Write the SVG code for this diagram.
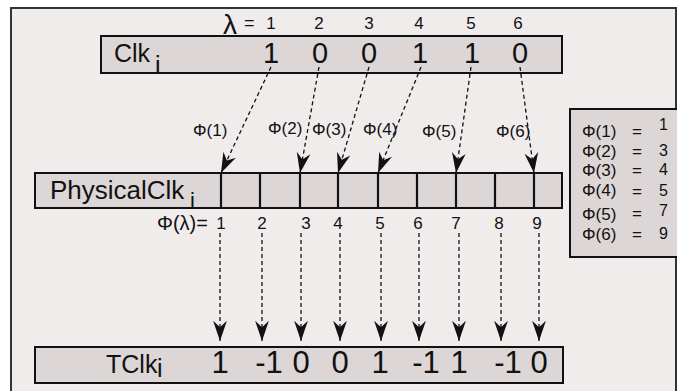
<svg xmlns="http://www.w3.org/2000/svg" width="677" height="391" viewBox="0 0 677 391">
<defs>
<style>
text{font-family:"Liberation Sans",Arial,sans-serif;fill:#111}
.box{fill:#ddd6d6;stroke:#111;stroke-width:2}
.big{font-size:29px;text-anchor:middle}
.tv{font-size:31px;text-anchor:middle}
.lbl{font-size:25px}
.sm{font-size:17px;text-anchor:middle}
.phi{font-size:17px}
.leg{font-size:17px}
.val{font-size:16px}
.dash{stroke:#111;stroke-width:1.3;stroke-dasharray:4 3;fill:none}
.tick{stroke:#111;stroke-width:2.2}
</style>
<marker id="ah" viewBox="-23 -8 25 16" markerWidth="23" markerHeight="16" refX="0" refY="0" orient="auto" markerUnits="userSpaceOnUse">
<path d="M0,0 L-22,-7.5 L-15,0 L-22,7.5 Z" fill="#111"/>
</marker>
</defs>
<rect x="0" y="0" width="677" height="391" fill="#ffffff"/>
<rect x="11" y="8" width="665" height="400" fill="#f0ecec" stroke="#333" stroke-width="2"/>

<g id="clk">
<rect class="box" x="101" y="36" width="461" height="37"/>
<text class="lbl" x="114" y="62">Clk</text>
<text class="lbl" x="155" y="74">i</text>
<text class="big" x="271" y="63">1</text>
<text class="big" x="320" y="63">0</text>
<text class="big" x="369" y="63">0</text>
<text class="big" x="420" y="63">1</text>
<text class="big" x="472" y="63">1</text>
<text class="big" x="520" y="63">0</text>
<text x="223" y="34" style="font-size:28px">λ</text>
<text x="244" y="29" style="font-size:18px">=</text>
<text class="sm" x="271" y="29">1</text>
<text class="sm" x="319" y="29">2</text>
<text class="sm" x="369" y="29">3</text>
<text class="sm" x="419" y="29">4</text>
<text class="sm" x="471" y="29">5</text>
<text class="sm" x="518" y="29">6</text>
</g>

<g id="physicalclk">
<rect class="box" x="35" y="173" width="527" height="35"/>
<text class="lbl" x="50" y="199" style="font-size:26px">PhysicalClk</text>
<text class="lbl" x="190" y="208" style="font-size:22px">i</text>
<line class="tick" x1="221" y1="173" x2="221" y2="208"/>
<line class="tick" x1="260" y1="173" x2="260" y2="208"/>
<line class="tick" x1="300" y1="173" x2="300" y2="208"/>
<line class="tick" x1="338" y1="173" x2="338" y2="208"/>
<line class="tick" x1="378" y1="173" x2="378" y2="208"/>
<line class="tick" x1="417" y1="173" x2="417" y2="208"/>
<line class="tick" x1="456" y1="173" x2="456" y2="208"/>
<line class="tick" x1="495" y1="173" x2="495" y2="208"/>
<line class="tick" x1="534" y1="173" x2="534" y2="208"/>
<text x="157" y="230" style="font-size:20px">Φ(λ)=</text>
<text class="sm" x="221" y="229">1</text>
<text class="sm" x="262" y="229">2</text>
<text class="sm" x="306" y="229">3</text>
<text class="sm" x="338" y="229">4</text>
<text class="sm" x="380" y="229">5</text>
<text class="sm" x="418" y="229">6</text>
<text class="sm" x="456" y="229">7</text>
<text class="sm" x="499" y="229">8</text>
<text class="sm" x="537" y="229">9</text>
</g>

<g id="tclk">
<rect class="box" x="35" y="347" width="528" height="36"/>
<text class="lbl" x="106" y="373">TClk</text>
<text class="lbl" x="157" y="377">i</text>
<text class="tv" x="220" y="373">1</text>
<text class="tv" x="269" y="373" text-anchor="end">-1</text>
<text class="tv" x="301" y="373">0</text>
<text class="tv" x="340" y="373">0</text>
<text class="tv" x="380" y="373">1</text>
<text class="tv" x="426" y="373" text-anchor="end">-1</text>
<text class="tv" x="459" y="373">1</text>
<text class="tv" x="508" y="373" text-anchor="end">-1</text>
<text class="tv" x="539" y="373">0</text>
</g>

<g id="legend">
<rect class="box" x="570" y="109" width="110" height="148"/>
<text class="leg" x="582" y="137">Φ(1)</text><text class="leg" x="632" y="137">=</text><text class="val" x="659" y="130">1</text>
<text class="leg" x="582" y="157">Φ(2)</text><text class="leg" x="632" y="157">=</text><text class="val" x="659" y="156">3</text>
<text class="leg" x="582" y="176">Φ(3)</text><text class="leg" x="632" y="176">=</text><text class="val" x="659" y="175">4</text>
<text class="leg" x="582" y="196">Φ(4)</text><text class="leg" x="632" y="197">=</text><text class="val" x="659" y="196">5</text>
<text class="leg" x="582" y="220">Φ(5)</text><text class="leg" x="632" y="219">=</text><text class="val" x="659" y="216">7</text>
<text class="leg" x="582" y="240">Φ(6)</text><text class="leg" x="632" y="240">=</text><text class="val" x="659" y="239">9</text>
</g>

<g id="phi-labels">
<text class="phi" x="193" y="136">Φ(1)</text>
<text class="phi" x="268" y="134">Φ(2)</text>
<text class="phi" x="312" y="135">Φ(3)</text>
<text class="phi" x="363" y="135">Φ(4)</text>
<text class="phi" x="422" y="137">Φ(5)</text>
<text class="phi" x="496" y="137">Φ(6)</text>
</g>

<g id="connectors">
<line class="dash" x1="271" y1="67" x2="221" y2="173" marker-end="url(#ah)"/>
<line class="dash" x1="319" y1="67" x2="300" y2="173" marker-end="url(#ah)"/>
<line class="dash" x1="369" y1="67" x2="338" y2="173" marker-end="url(#ah)"/>
<line class="dash" x1="421" y1="67" x2="378" y2="173" marker-end="url(#ah)"/>
<line class="dash" x1="471" y1="67" x2="456" y2="173" marker-end="url(#ah)"/>
<line class="dash" x1="520" y1="67" x2="534" y2="173" marker-end="url(#ah)"/>
<line class="dash" x1="220" y1="233" x2="220" y2="341" marker-end="url(#ah)"/>
<line class="dash" x1="262" y1="233" x2="262" y2="341" marker-end="url(#ah)"/>
<line class="dash" x1="301" y1="233" x2="301" y2="341" marker-end="url(#ah)"/>
<line class="dash" x1="340" y1="233" x2="340" y2="341" marker-end="url(#ah)"/>
<line class="dash" x1="381" y1="233" x2="381" y2="341" marker-end="url(#ah)"/>
<line class="dash" x1="419" y1="233" x2="419" y2="341" marker-end="url(#ah)"/>
<line class="dash" x1="459" y1="233" x2="459" y2="341" marker-end="url(#ah)"/>
<line class="dash" x1="501" y1="233" x2="501" y2="341" marker-end="url(#ah)"/>
<line class="dash" x1="539" y1="233" x2="539" y2="341" marker-end="url(#ah)"/>
</g>
</svg>
